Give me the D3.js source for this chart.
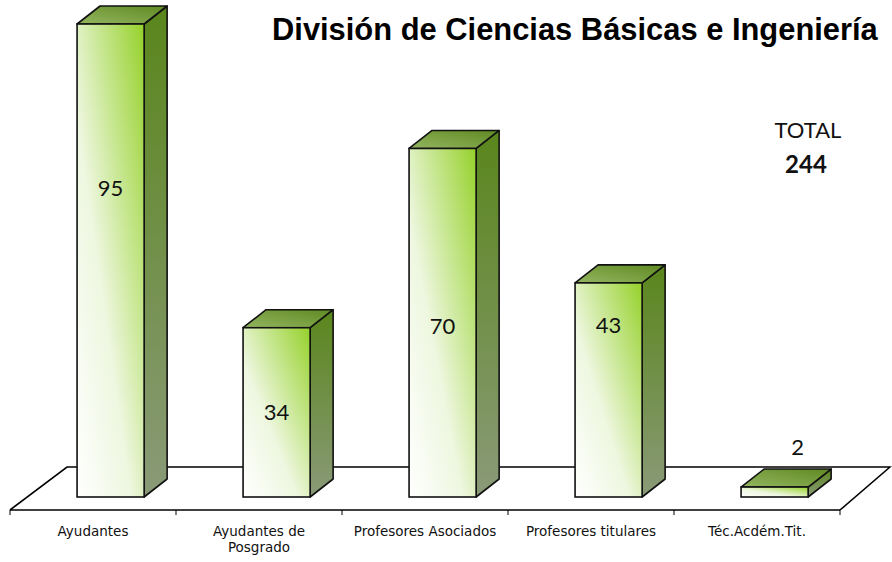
<!DOCTYPE html>
<html>
<head>
<meta charset="utf-8">
<script src="https://cdn.jsdelivr.net/npm/d3@7"></script>
<style>
  html, body { margin: 0; padding: 0; background: #fff; }
  svg { display: block; }
</style>
</head>
<body>
<svg id="chart" width="892" height="562"></svg>
<script>
const categories = ["Ayudantes", "Ayudantes de\nPosgrado", "Profesores Asociados", "Profesores titulares", "Téc.Acdém.Tit."];
const values = [95, 34, 70, 43, 2];
// vertical position of each value label, in value units
const labelAt = [62, 17, 34.3, 34.5, 10];
const titleText = "División de Ciencias Básicas e Ingeniería";
const totalLabel = "TOTAL";
const totalValue = 244;

const svg = d3.select("#chart");
const defs = svg.append("defs");

const x = d3.scaleBand().domain(categories).range([10, 840]).padding(0);
const y = d3.scaleLinear().domain([0, 95]).range([497, 24]);

// floor depth and bar depth
const fdx = 57, fdy = -43;
const bdx = 23, bdy = -18;
const floorY = 510;

// gradients
const gFront = defs.append("linearGradient").attr("id", "gFront")
  .attr("x1", "0%").attr("y1", "100%").attr("x2", "100%").attr("y2", "0%");
gFront.append("stop").attr("offset", "0%").attr("stop-color", "#ffffff");
gFront.append("stop").attr("offset", "40%").attr("stop-color", "#eef7e0");
gFront.append("stop").attr("offset", "100%").attr("stop-color", "#95d12a");

const gSide = defs.append("linearGradient").attr("id", "gSide")
  .attr("x1", "0%").attr("y1", "0%").attr("x2", "0%").attr("y2", "100%");
gSide.append("stop").attr("offset", "0%").attr("stop-color", "#5a861c");
gSide.append("stop").attr("offset", "100%").attr("stop-color", "#8a9a78");

const gTop = defs.append("linearGradient").attr("id", "gTop")
  .attr("x1", "0%").attr("y1", "100%").attr("x2", "100%").attr("y2", "0%");
gTop.append("stop").attr("offset", "0%").attr("stop-color", "#93b560");
gTop.append("stop").attr("offset", "100%").attr("stop-color", "#5f8a22");

// floor
const x0 = x.range()[0], x1 = x.range()[1];
svg.append("path")
  .attr("d", `M${x0},${floorY} L${x0 + fdx},${floorY + fdy} L${x1 + fdx - 7},${floorY + fdy} L${x1},${floorY}`)
  .attr("fill", "none").attr("stroke", "#000").attr("stroke-width", 1.6);
svg.append("line")
  .attr("x1", x0).attr("x2", x1).attr("y1", floorY).attr("y2", floorY)
  .attr("stroke", "#000").attr("stroke-width", 1.6);

// ticks at band boundaries
const bounds = categories.map(c => x(c)).concat([x1]);
svg.selectAll("line.tick").data(bounds).enter().append("line")
  .attr("class", "tick")
  .attr("x1", d => d).attr("x2", d => d)
  .attr("y1", floorY).attr("y2", floorY + 5)
  .attr("stroke", "#000").attr("stroke-width", 1);

// bars
const bw = x.bandwidth();
const faceW = bw * 0.404;
const bars = svg.selectAll("g.bar").data(categories.map((c, i) => ({c, v: values[i], i})))
  .enter().append("g").attr("class", "bar");

bars.each(function(d) {
  const g = d3.select(this);
  const L = x(d.c) + faceW;
  const R = L + faceW;
  const T = y(d.v);
  const B = y(0);
  // side
  g.append("path")
    .attr("d", `M${R},${T} L${R + bdx},${T + bdy} L${R + bdx},${B + bdy} L${R},${B} Z`)
    .attr("fill", "url(#gSide)").attr("stroke", "#111").attr("stroke-width", 1.6)
    .attr("stroke-linejoin", "round");
  // top
  g.append("path")
    .attr("d", `M${L},${T} L${L + bdx},${T + bdy} L${R + bdx},${T + bdy} L${R},${T} Z`)
    .attr("fill", "url(#gTop)").attr("stroke", "#111").attr("stroke-width", 1.6)
    .attr("stroke-linejoin", "round");
  // front
  g.append("rect")
    .attr("x", L).attr("y", T).attr("width", faceW).attr("height", B - T)
    .attr("fill", "url(#gFront)").attr("stroke", "#111").attr("stroke-width", 1.6);
  // value label (shifted onto depth when placed above the bar)
  const above = labelAt[d.i] > d.v;
  g.append("text")
    .attr("x", L + faceW / 2 + (above ? bdx : 0))
    .attr("y", y(labelAt[d.i]))
    .attr("dy", "0.35em")
    .attr("text-anchor", "middle")
    .attr("font-family", "Lato, 'Open Sans', sans-serif")
    .attr("font-size", 22)
    .attr("fill", "#111")
    .text(d.v);
});

// category labels
categories.forEach(c => {
  const lines = c.split("\n");
  const t = svg.append("text")
    .attr("x", x(c) + bw / 2)
    .attr("y", 536)
    .attr("text-anchor", "middle")
    .attr("font-family", "'DejaVu Sans', Verdana, sans-serif")
    .attr("font-size", 13.5)
    .attr("fill", "#111");
  lines.forEach((ln, k) => {
    t.append("tspan").attr("x", x(c) + bw / 2).attr("dy", k === 0 ? 0 : 16).text(ln);
  });
});

// title
const title = svg.append("text")
  .attr("x", 272).attr("y", 40)
  .attr("font-family", "'Liberation Sans', Arial, sans-serif")
  .attr("font-weight", "bold")
  .attr("font-size", 25)
  .attr("fill", "#000")
  .text(titleText);
const tw = title.node().getComputedTextLength();
title.attr("font-size", 25 * 606 / tw);

// total
svg.append("text")
  .attr("x", 808).attr("y", 138)
  .attr("text-anchor", "middle")
  .attr("font-family", "Lato, 'Open Sans', sans-serif")
  .attr("font-size", 22)
  .attr("fill", "#111")
  .text(totalLabel);
svg.append("text")
  .attr("x", 806).attr("y", 173)
  .attr("text-anchor", "middle")
  .attr("font-family", "Lato, 'Open Sans', sans-serif")
  .attr("font-weight", "bold")
  .attr("font-size", 24)
  .attr("fill", "#111")
  .text(totalValue);
</script>
</body>
</html>
